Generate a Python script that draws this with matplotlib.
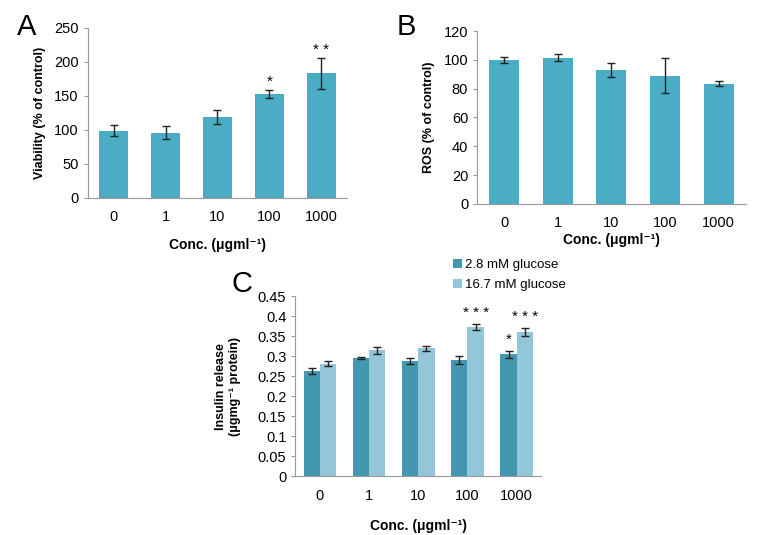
import matplotlib.pyplot as plt
import numpy as np

# datos
conc = ["0", "1", "10", "100", "1000"]

viab = [99, 96, 119, 153, 183]
viab_err = [8, 10, 10, 6, 23]
viab_sig = ["", "", "", "*", "* *"]

ros = [100, 101.5, 93, 89, 83.5]
ros_err = [2, 2.5, 5, 12, 2]

ins_low = [0.263, 0.296, 0.289, 0.291, 0.305]
ins_low_err = [0.007, 0.002, 0.007, 0.009, 0.009]
ins_low_sig = ["", "", "", "", "*"]
ins_high = [0.282, 0.315, 0.320, 0.373, 0.361]
ins_high_err = [0.006, 0.009, 0.007, 0.007, 0.009]
ins_high_sig = ["", "", "", "* * *", "* * *"]

azul = "#4BACC6"
oscuro = "#4397B0"
claro = "#93C6D8"
gris = "#999999"
xlab = "Conc. (\u03bcgml\u207b\u00b9)"

plt.rcParams["font.family"] = ["Liberation Sans", "DejaVu Sans"]

fig = plt.figure(figsize=(7.71, 5.35), dpi=100)


def estilo(ax):
    # ejes grises como en excel
    for s in ["top", "right"]:
        ax.spines[s].set_visible(False)
    ax.spines["left"].set_color(gris)
    ax.spines["bottom"].set_color(gris)
    ax.tick_params(axis="y", colors=gris, labelcolor="black", labelsize=10.5, length=3)
    ax.tick_params(axis="x", length=0, labelsize=10.5, pad=9)
    ax.set_xlim(-0.5, 4.5)


x = np.arange(len(conc))

# panel A
axA = fig.add_axes([0.114, 0.630, 0.336, 0.318])
axA.bar(x, viab, 0.56, color=azul)
axA.errorbar(x, viab, yerr=viab_err, fmt="none", ecolor="#222222", capsize=3, lw=1)
for i in range(len(conc)):
    if viab_sig[i]:
        axA.annotate(viab_sig[i], (x[i], viab[i] + viab_err[i]), xytext=(0, 3),
                     textcoords="offset points", ha="center", fontsize=11)
axA.set_ylim(0, 250)
axA.set_yticks(range(0, 251, 50))
axA.set_xticks(x, conc)
estilo(axA)
axA.set_ylabel("Viability (% of control)", fontsize=9, fontweight="bold", labelpad=6)
axA.set_xlabel(xlab, fontsize=10, fontweight="bold", labelpad=10)
fig.text(0.022, 0.935, "A", fontsize=21)

# panel B
axB = fig.add_axes([0.619, 0.619, 0.348, 0.323])
axB.bar(x, ros, 0.56, color=azul)
axB.errorbar(x, ros, yerr=ros_err, fmt="none", ecolor="#222222", capsize=3, lw=1)
axB.set_ylim(0, 120)
axB.set_yticks(range(0, 121, 20))
axB.set_xticks(x, conc)
estilo(axB)
axB.set_ylabel("ROS (% of control)", fontsize=9, fontweight="bold", labelpad=6)
axB.set_xlabel(xlab, fontsize=10, fontweight="bold", labelpad=2)
fig.text(0.515, 0.935, "B", fontsize=21)

# panel C
axC = fig.add_axes([0.383, 0.110, 0.319, 0.336])
w = 0.33
axC.bar(x - w / 2, ins_low, w, color=oscuro, label="2.8 mM glucose")
axC.bar(x + w / 2, ins_high, w, color=claro, label="16.7 mM glucose")
axC.errorbar(x - w / 2, ins_low, yerr=ins_low_err, fmt="none", ecolor="#222222", capsize=3, lw=1)
axC.errorbar(x + w / 2, ins_high, yerr=ins_high_err, fmt="none", ecolor="#222222", capsize=3, lw=1)
for i in range(len(conc)):
    if ins_low_sig[i]:
        axC.annotate(ins_low_sig[i], (x[i] - w / 2, ins_low[i] + ins_low_err[i]), xytext=(0, 5),
                     textcoords="offset points", ha="center", fontsize=11)
    if ins_high_sig[i]:
        axC.annotate(ins_high_sig[i], (x[i] + w / 2, ins_high[i] + ins_high_err[i]), xytext=(0, 5),
                     textcoords="offset points", ha="center", fontsize=11)
axC.set_ylim(0, 0.45)
axC.set_yticks(np.arange(0, 0.451, 0.05))
axC.set_yticklabels(["0", "0.05", "0.1", "0.15", "0.2", "0.25", "0.3", "0.35", "0.4", "0.45"])
axC.set_xticks(x, conc)
estilo(axC)
axC.set_ylabel("Insulin release\n(\u03bcgmg\u207b\u00b9 protein)", fontsize=9, fontweight="bold",
               labelpad=12)
axC.set_xlabel(xlab, fontsize=10, fontweight="bold", labelpad=12)
axC.legend(loc="lower left", bbox_to_anchor=(0.62, 1.0), frameon=False, fontsize=9.5,
           handlelength=0.7, handleheight=0.7, handletextpad=0.2, labelspacing=0.6,
           borderaxespad=0)
fig.text(0.300, 0.455, "C", fontsize=21)

fig.savefig("out.png", dpi=100)
